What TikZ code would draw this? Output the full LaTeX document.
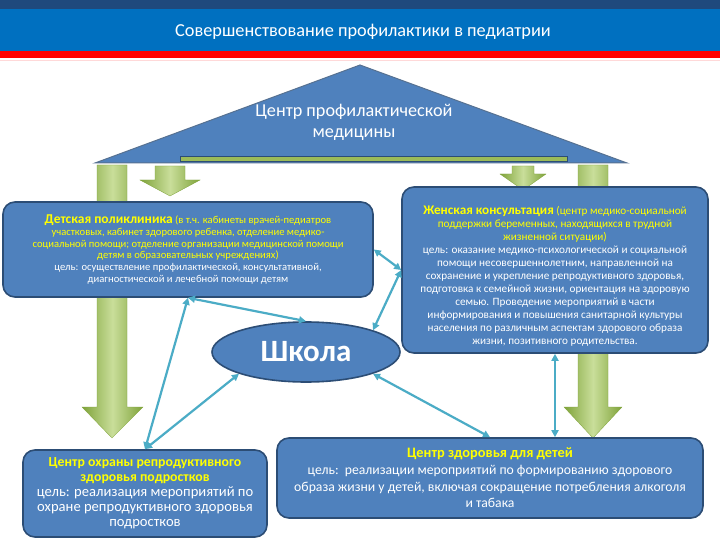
\documentclass[tikz,border=0pt]{standalone}
\usepackage{fontspec}
\setmainfont{Carlito}
\usetikzlibrary{arrows.meta,shapes.geometric}
\definecolor{topdark}{HTML}{1F497D}
\definecolor{band}{HTML}{0070C0}
\definecolor{redline}{HTML}{FF0000}
\definecolor{boxfill}{HTML}{4F81BD}
\definecolor{boxline}{HTML}{2C4D75}
\definecolor{conn}{HTML}{4BACC6}
\definecolor{yel}{HTML}{FFFF00}
\definecolor{gdark}{HTML}{7FA33A}
\definecolor{glight}{HTML}{C9DE9A}
\definecolor{gmid}{HTML}{9BBB59}
\tikzset{
  infobox/.style={draw=boxline, line width=1.6pt, fill=boxfill, rounded corners=12pt, text=white, align=center, inner sep=0pt},
  link/.style={conn, line width=2.2pt, {Triangle[length=7pt,width=7pt]}-{Triangle[length=7pt,width=7pt]}},
  greenarrow/.style={left color=gdark, right color=gdark, middle color=glight, draw=gdark, line width=0.3pt},
  bodyfont/.style={font=\fontsize{10.6}{11.8}\selectfont},
}
\begin{document}
\begin{tikzpicture}[x=1pt,y=-1pt]
\useasboundingbox (0,0) rectangle (720,540);
\fill[white] (0,0) rectangle (720,540);
% header
\fill[topdark] (0,0) rectangle (720,9);
\fill[band] (0,9) rectangle (720,51);
\fill[redline] (0,51) rectangle (720,58);
\draw[red!15, line width=0.8pt] (0,60) -- (720,60);
\node[text=white, font=\fontsize{18.3}{20}\selectfont] (title) at (363,32) {Совершенствование профилактики в педиатрии};
% triangle
\draw[fill=boxfill, draw=boxline!80, line width=1pt] (95,163) -- (360,65) -- (627,163) -- cycle;
\draw[fill=gmid, draw=boxline, line width=0.8pt] (180,156.5) rectangle (567,161);
\node[text=white, align=center, font=\fontsize{18.2}{21}\selectfont] (tri) at (354,122) {Центр профилактической\\медицины};
% green arrows
\draw[greenarrow] (97,165) -- (127,165) -- (127,407) -- (143,407) -- (112,438) -- (82,407) -- (97,407) -- cycle;
\draw[greenarrow] (578,165) -- (608,165) -- (608,407) -- (622,407) -- (593,438) -- (564,407) -- (578,407) -- cycle;
\draw[greenarrow] (155,166) -- (185,166) -- (185,180) -- (200,180) -- (170,196) -- (140,180) -- (155,180) -- cycle;
\draw[greenarrow] (512,166) -- (534,166) -- (534,174) -- (546,174) -- (523,190) -- (500,174) -- (512,174) -- cycle;
% boxes
\node[infobox, bodyfont, minimum width=370pt, minimum height=95pt] (det) at (188,249.5)
{\textcolor{yel}{{\fontsize{13.5}{11.8}\selectfont\bfseries Детская поликлиника} (в т.ч. кабинеты врачей-педиатров}\\
\textcolor{yel}{участковых, кабинет здорового ребенка, отделение медико-}\\
\textcolor{yel}{социальной помощи; отделение организации медицинской помощи}\\
\textcolor{yel}{детям в образовательных учреждениях)}\\
цель: осуществление профилактической, консультативной,\\
диагностической и лечебной помощи детям};
\node[infobox, font=\fontsize{11.2}{13}\selectfont, minimum width=306pt, minimum height=166pt] (zhk) at (555,270)
{\rule{0pt}{21pt}\textcolor{yel}{{\fontsize{13.2}{13}\selectfont\bfseries Женская консультация} (центр медико-социальной}\\
\textcolor{yel}{поддержки беременных, находящихся в трудной}\\
\textcolor{yel}{жизненной ситуации)}\\
цель: оказание медико-психологической и социальной\\
помощи несовершеннолетним, направленной на\\
сохранение и укрепление репродуктивного здоровья,\\
подготовка к семейной жизни, ориентация на здоровую\\
семью. Проведение мероприятий в части\\
информирования и повышения санитарной культуры\\
населения по различным аспектам здорового образа\\
жизни, позитивного родительства.};
\node[ellipse, draw=boxline, line width=1.6pt, fill=boxfill, minimum width=188pt, minimum height=60pt, inner sep=0pt, text=white, font=\fontsize{31}{34}\selectfont\bfseries] (school) at (306,352) {Школа};
\node[infobox, font=\fontsize{14.6}{15}\selectfont, minimum width=244pt, minimum height=87pt] (ohr) at (145,493.5)
{\textcolor{yel}{\fontsize{13.8}{15}\selectfont\bfseries Центр охраны репродуктивного}\\
\textcolor{yel}{\fontsize{13.8}{15}\selectfont\bfseries здоровья подростков}\\
цель: реализация мероприятий по\\
охране репродуктивного здоровья\\
подростков};
\node[infobox, font=\fontsize{13.7}{16.6}\selectfont, minimum width=426pt, minimum height=80pt] (zdr) at (490,478)
{\textcolor{yel}{\fontsize{14.4}{16.6}\selectfont\bfseries Центр здоровья для детей}\\
цель:\ \ реализации мероприятий по формированию здорового\\
образа жизни у детей, включая сокращение потребления алкоголя\\
и табака};
% connectors
\draw[link] (det.south) -- (school.north);
\draw[link] (det.south) -- (ohr.north);
\draw[link] (school.south west) -- (ohr.north);
\draw[link] (school.north east) -- (zhk.west);
\draw[link] (det.east) -- (zhk.west);
\draw[link] (school.south east) -- (zdr.north);
\draw[link] (zhk.south) -- (zhk.south |- zdr.north);
\end{tikzpicture}
\end{document}
